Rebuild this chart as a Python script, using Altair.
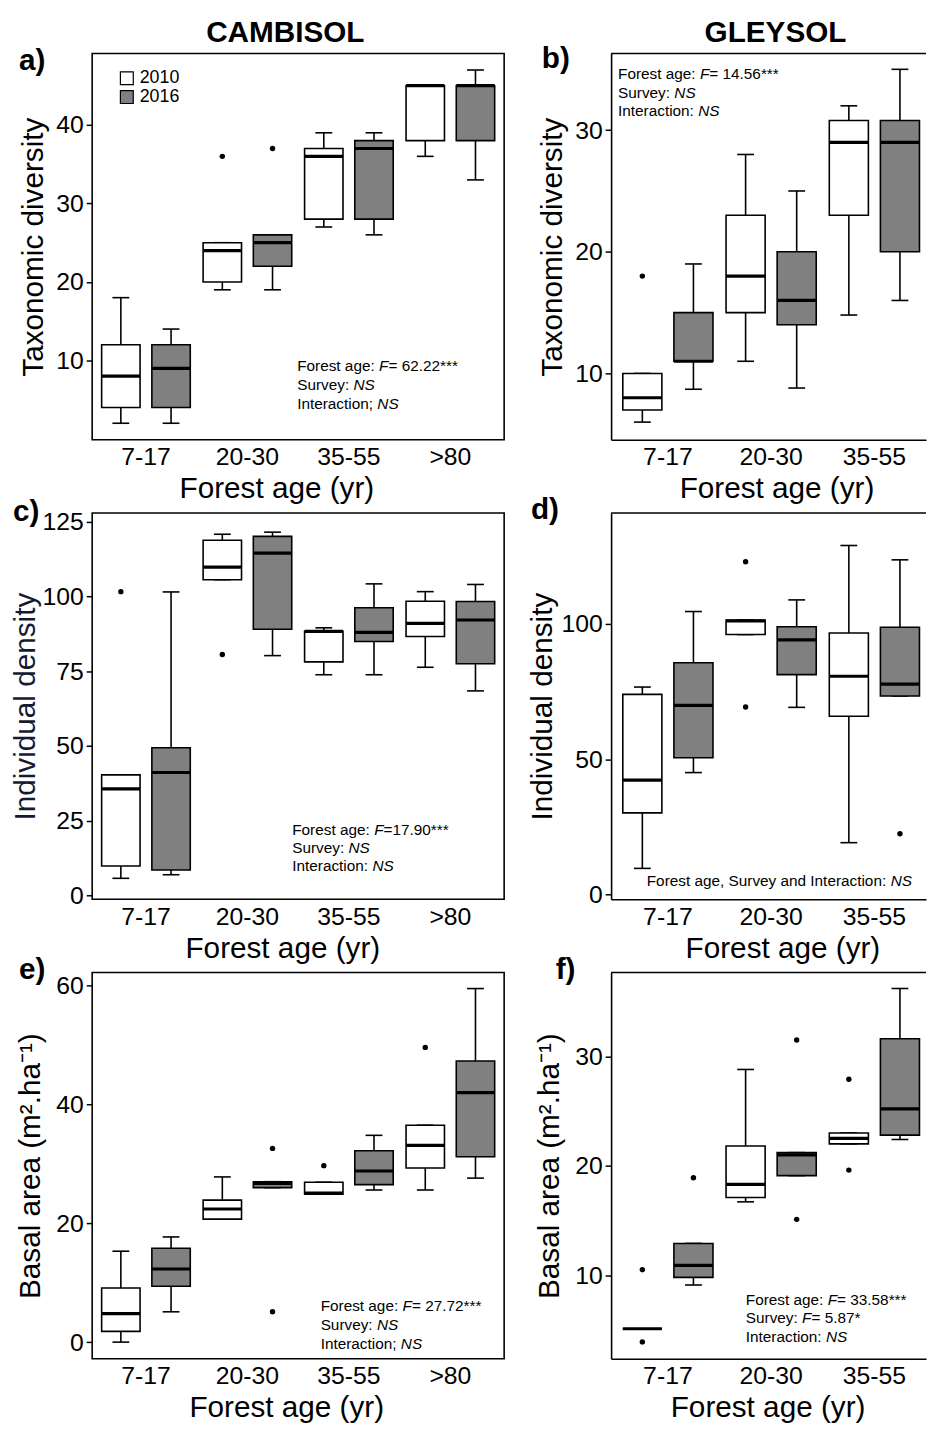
import altair as alt
import pandas as pd

FONT = "Liberation Sans"
AGES4 = ["7-17", "20-30", "35-55", ">80"]
AGES3 = ["7-17", "20-30", "35-55"]
YEARS = ["2010", "2016"]
FILLS = ["#ffffff", "#808080"]

# ---------------- panel a : CAMBISOL, taxonomic diversity ----------------
A_AGE = ["7-17", "7-17", "20-30", "20-30", "35-55", "35-55", ">80", ">80"]
A_YEAR = ["2010", "2016", "2010", "2016", "2010", "2016", "2010", "2016"]
A_MIN = [2, 2, 19, 19, 27, 26, 36, 33]
A_Q1 = [4, 4, 20, 22, 28, 28, 38, 38]
A_MED = [8, 9, 24, 25, 36, 37, 45, 45]
A_Q3 = [12, 12, 25, 26, 37, 38, 45, 45]
A_MAX = [18, 14, 25, 26, 39, 39, 45, 47]
A_OUT_AGE = ["20-30", "20-30"]
A_OUT_YEAR = ["2010", "2016"]
A_OUT_VAL = [36, 37]

# ---------------- panel b : GLEYSOL, taxonomic diversity ----------------
B_AGE = ["7-17", "7-17", "20-30", "20-30", "35-55", "35-55"]
B_YEAR = ["2010", "2016", "2010", "2016", "2010", "2016"]
B_MIN = [6, 8.7, 11, 8.8, 14.8, 16]
B_Q1 = [7, 11, 15, 14, 23, 20]
B_MED = [8, 11, 18, 16, 29, 29]
B_Q3 = [10, 15, 23, 20, 30.8, 30.8]
B_MAX = [10, 19, 28, 25, 32, 35]
B_OUT_AGE = ["7-17"]
B_OUT_YEAR = ["2010"]
B_OUT_VAL = [18]

# ---------------- panel c : CAMBISOL, individual density ----------------
C_AGE = A_AGE
C_YEAR = A_YEAR
C_MIN = [5.7, 6.9, 105.6, 80.2, 73.8, 73.8, 76.3, 68.4]
C_Q1 = [9.8, 8.5, 105.6, 89.0, 78.1, 84.9, 86.6, 77.5]
C_MED = [35.6, 41.1, 109.8, 114.5, 88.3, 88.0, 91.0, 92.1]
C_Q3 = [40.3, 49.4, 118.8, 120.1, 88.3, 96.2, 98.4, 98.3]
C_MAX = [40.3, 101.5, 120.8, 121.5, 89.5, 104.2, 101.6, 104.0]
C_OUT_AGE = ["7-17", "20-30"]
C_OUT_YEAR = ["2010", "2010"]
C_OUT_VAL = [101.6, 80.6]

# ---------------- panel d : GLEYSOL, individual density ----------------
D_AGE = B_AGE
D_YEAR = B_YEAR
D_MIN = [9.7, 45.1, 96.1, 69.2, 19.2, 73.4]
D_Q1 = [30.2, 50.6, 96.1, 81.3, 65.9, 73.4]
D_MED = [42.3, 69.9, 101.1, 94.1, 80.7, 77.8]
D_Q3 = [74.0, 85.7, 101.5, 99.0, 96.7, 98.8]
D_MAX = [76.7, 104.6, 101.5, 108.9, 129.0, 123.7]
D_OUT_AGE = ["20-30", "20-30", "35-55"]
D_OUT_YEAR = ["2010", "2010", "2016"]
D_OUT_VAL = [123.0, 69.3, 22.5]

# ---------------- panel e : CAMBISOL, basal area ----------------
E_AGE = A_AGE
E_YEAR = A_YEAR
E_MIN = [0.0, 5.1, 20.7, 26.0, 24.9, 25.6, 25.6, 27.6]
E_Q1 = [1.8, 9.4, 20.7, 26.0, 24.9, 26.5, 29.3, 31.2]
E_MED = [4.8, 12.3, 22.4, 26.7, 25.1, 28.8, 33.1, 42.0]
E_Q3 = [9.1, 15.8, 23.9, 27.0, 26.9, 32.2, 36.5, 47.3]
E_MAX = [15.3, 17.7, 27.8, 27.0, 26.9, 34.8, 36.5, 59.5]
E_OUT_AGE = ["20-30", "20-30", "35-55", ">80"]
E_OUT_YEAR = ["2016", "2016", "2010", "2010"]
E_OUT_VAL = [32.6, 5.1, 29.7, 49.6]

# ---------------- panel f : GLEYSOL, basal area ----------------
F_AGE = B_AGE
F_YEAR = B_YEAR
F_MIN = [5.1, 9.1, 16.7, 19.1, 22.0, 22.4]
F_Q1 = [5.1, 9.8, 17.1, 19.1, 22.0, 22.8]
F_MED = [5.1, 10.9, 18.3, 21.0, 22.5, 25.2]
F_Q3 = [5.1, 12.9, 21.8, 21.2, 23.0, 31.6]
F_MAX = [5.1, 12.9, 28.8, 21.2, 23.0, 36.2]
F_OUT_AGE = ["7-17", "7-17", "7-17", "20-30", "20-30", "35-55", "35-55"]
F_OUT_YEAR = ["2010", "2010", "2016", "2016", "2016", "2010", "2010"]
F_OUT_VAL = [10.5, 3.9, 18.9, 31.5, 15.1, 27.9, 19.6]

# ---------------- layout / style constants ----------------
LW, RW, H = 416, 318, 390
PI, PO = 0.235, 0.128
NOTE = 15.5
LINE = 1.6

CW = {" ": 278, "*": 389, ",": 278, ".": 278, ":": 278, ";": 278, "=": 584,
      "F": 611, "I": 278, "N": 722, "S": 667, "a": 556, "c": 500, "d": 556,
      "e": 556, "g": 556, "i": 222, "n": 556, "o": 556, "r": 333, "s": 500,
      "t": 278, "u": 556, "v": 500, "y": 500}


def tw(s, size):
    return sum(CW.get(ch, 556) for ch in s) * size / 1000.0


def text_layer(s, px, py, size, italic=False, bold=False, baseline="middle",
               align="left", color="black"):
    return alt.Chart(pd.DataFrame({"t": [s]})).mark_text(
        align=align, baseline=baseline, fontSize=size, font=FONT, color=color,
        fontStyle="italic" if italic else "normal",
        fontWeight="bold" if bold else "normal",
    ).encode(x=alt.value(px), y=alt.value(py), text="t:N")


def note_layers(x0, lines):
    out = []
    for py, segs in lines:
        px = x0
        for s, it in segs:
            out.append(text_layer(s, px, py, NOTE, italic=it))
            px += tw(s, NOTE)
    return out


def panel(ages_dom, age, year, lo, q1, med, q3, hi, o_age, o_year, o_val,
          ydom, yticks, ytitle, right, E, tp, title_x, letter, lxy, notes_x, notes,
          header=None, header_x=0, legend=False, ytitle_color="black"):
    width = RW if right else LW
    df = pd.DataFrame({"age": age, "year": year, "lo": lo, "q1": q1,
                       "med": med, "q3": q3, "hi": hi})
    od = pd.DataFrame({"age": o_age, "year": o_year, "val": o_val})
    n = len(ages_dom)
    if right:
        xs = alt.Scale(domain=ages_dom, paddingInner=0, paddingOuter=0.025, align=1)
        step = width / (n + 0.05)
    else:
        xs = alt.Scale(domain=ages_dom, paddingInner=0, paddingOuter=0.03)
        step = width / (n + 0.06)
    bw = step * (1 - PI) / (2 - PI + 2 * PO)
    xaxis = alt.Axis(ticks=False, tickSize=0, labelPadding=5.5, labelFontSize=25,
                     labelAngle=0, labelColor="black", titleFontSize=30,
                     titleFontWeight="normal", titleColor="black", titlePadding=4,
                     titleX=title_x, domain=right, domainColor="black",
                     domainWidth=LINE, grid=False)
    yaxis = alt.Axis(values=yticks, tickSize=6, tickWidth=1.5, tickColor="black",
                     labelPadding=3, labelFontSize=25, labelColor="black",
                     labelFlush=False, labelOverlap=False, titleFontSize=30,
                     titleFontWeight="normal", titleColor=ytitle_color,
                     titlePadding=tp, minExtent=E, maxExtent=E, domain=right,
                     domainColor="black", domainWidth=LINE, grid=False)
    X = alt.X("age:N", scale=xs, axis=xaxis, title="Forest age (yr)", sort=ages_dom)
    XO = alt.XOffset("year:N", scale=alt.Scale(domain=YEARS, paddingInner=PI, paddingOuter=PO))
    ys = alt.Scale(domain=ydom, nice=False, zero=False)

    def Y(f):
        return alt.Y(f, scale=ys, axis=yaxis, title=ytitle)

    if legend:
        leg = alt.Legend(orient="none", legendX=26, legendY=16, title=None,
                         symbolType="square", symbolSize=169, symbolStrokeColor="black",
                         symbolStrokeWidth=1.2, labelFontSize=18, labelFont=FONT,
                         labelColor="black", labelOffset=4, rowPadding=1, padding=0)
    else:
        leg = None
    fill = alt.Fill("year:N", scale=alt.Scale(domain=YEARS, range=FILLS), legend=leg)

    base = alt.Chart(df)
    whisk = base.mark_rule(color="black", strokeWidth=LINE).encode(
        x=X, xOffset=XO, y=Y("lo:Q"), y2="hi:Q")
    cap_lo = base.mark_tick(color="black", thickness=LINE, size=17, opacity=1).encode(
        x=X, xOffset=XO, y=Y("lo:Q"))
    cap_hi = base.mark_tick(color="black", thickness=LINE, size=17, opacity=1).encode(
        x=X, xOffset=XO, y=Y("hi:Q"))
    box = base.mark_bar(stroke="black", strokeWidth=LINE, opacity=1).encode(
        x=X, xOffset=XO, y=Y("q1:Q"), y2="q3:Q", fill=fill)
    mid = base.mark_tick(color="black", thickness=3.2, size=bw, opacity=1).encode(
        x=X, xOffset=XO, y=Y("med:Q"))
    outl = alt.Chart(od).mark_circle(size=30, color="black", opacity=1).encode(
        x=X, xOffset=XO, y=Y("val:Q"))

    layers = [whisk, cap_lo, cap_hi, box, mid, outl]
    if right:
        layers.append(alt.Chart(pd.DataFrame({"k": [0]})).mark_rule(
            color="black", strokeWidth=LINE).encode(
            x=alt.value(0), x2=alt.value(width), y=alt.value(0)))
    layers += note_layers(notes_x, notes)
    layers.append(text_layer(letter, lxy[0], lxy[1], 30, bold=True, baseline="alphabetic"))
    if header:
        layers.append(text_layer(header, header_x, -12, 30, bold=True,
                                 baseline="alphabetic", align="center"))

    props = dict(width=width, height=H)
    if right:
        props["view"] = alt.ViewBackground(stroke="transparent")
    else:
        props["view"] = alt.ViewBackground(stroke="black", strokeWidth=LINE)
    return alt.layer(*layers).properties(**props)


pa = panel(AGES4, A_AGE, A_YEAR, A_MIN, A_Q1, A_MED, A_Q3, A_MAX,
           A_OUT_AGE, A_OUT_YEAR, A_OUT_VAL,
           [-0.1, 49.1], [10, 20, 30, 40], "Taxonomic diversity", False, 37, 7, 186,
           "a)", (-74, 17), 207,
           [(316, [("Forest age: ", False), ("F", True), ("= 62.22***", False)]),
            (335, [("Survey: ", False), ("NS", True)]),
            (354, [("Interaction; ", False), ("NS", True)])],
           header="CAMBISOL", header_x=195, legend=True)

pb = panel(AGES3, B_AGE, B_YEAR, B_MIN, B_Q1, B_MED, B_Q3, B_MAX,
           B_OUT_AGE, B_OUT_YEAR, B_OUT_VAL,
           [4.55, 36.3], [10, 20, 30], "Taxonomic diversity", True, 37, 7, 167,
           "b)", (-70, 15), 7,
           [(21, [("Forest age: ", False), ("F", True), ("= 14.56***", False)]),
            (40, [("Survey: ", False), ("NS", True)]),
            (58, [("Interaction: ", False), ("NS", True)])],
           header="GLEYSOL", header_x=166)

pc = panel(AGES4, C_AGE, C_YEAR, C_MIN, C_Q1, C_MED, C_Q3, C_MAX,
           C_OUT_AGE, C_OUT_YEAR, C_OUT_VAL,
           [-1.3, 127.9], [0, 25, 50, 75, 100, 125], "Individual density", False, 51, 1, 192,
           "c)", (-80, 8), 202,
           [(319.7, [("Forest age: ", False), ("F", True), ("=17.90***", False)]),
            (338, [("Survey: ", False), ("NS", True)]),
            (356.3, [("Interaction: ", False), ("NS", True)])],
           ytitle_color="#141a33")

pdd = panel(AGES3, D_AGE, D_YEAR, D_MIN, D_Q1, D_MED, D_Q3, D_MAX,
            D_OUT_AGE, D_OUT_YEAR, D_OUT_VAL,
            [-1.7, 141], [0, 50, 100], "Individual density", True, 51, 3, 173,
            "d)", (-81, 6), 36,
            [(372, [("Forest age, Survey and Interaction: ", False), ("NS", True)])])

pe = panel(AGES4, E_AGE, E_YEAR, E_MIN, E_Q1, E_MED, E_Q3, E_MAX,
           E_OUT_AGE, E_OUT_YEAR, E_OUT_VAL,
           [-2.8, 62.2], [0, 20, 40, 60], "Basal area (m².ha⁻¹)", False, 37, 10, 196,
           "e)", (-74, 7), 230.7,
           [(336.3, [("Forest age: ", False), ("F", True), ("= 27.72***", False)]),
            (356, [("Survey: ", False), ("NS", True)]),
            (374.7, [("Interaction; ", False), ("NS", True)])])

pf = panel(AGES3, F_AGE, F_YEAR, F_MIN, F_Q1, F_MED, F_Q3, F_MAX,
           F_OUT_AGE, F_OUT_YEAR, F_OUT_VAL,
           [2.36, 37.66], [10, 20, 30], "Basal area (m².ha⁻¹)", True, 37, 10, 158,
           "f)", (-56, 7), 136,
           [(330.3, [("Forest age: ", False), ("F", True), ("= 33.58***", False)]),
            (349.3, [("Survey: ", False), ("F", True), ("= 5.87*", False)]),
            (367.7, [("Interaction: ", False), ("NS", True)])])

chart = alt.concat(
    pa, pb, pc, pdd, pe, pf, columns=2, bounds="flush",
    spacing={"row": 74, "column": 108},
).resolve_scale(
    x="independent", y="independent", fill="independent", xOffset="independent"
).properties(
    padding={"left": 2, "top": 2, "right": 0, "bottom": 0}
).configure(font=FONT, background="white")

chart.save("out.html", embed_options={"renderer": "svg", "actions": False})
